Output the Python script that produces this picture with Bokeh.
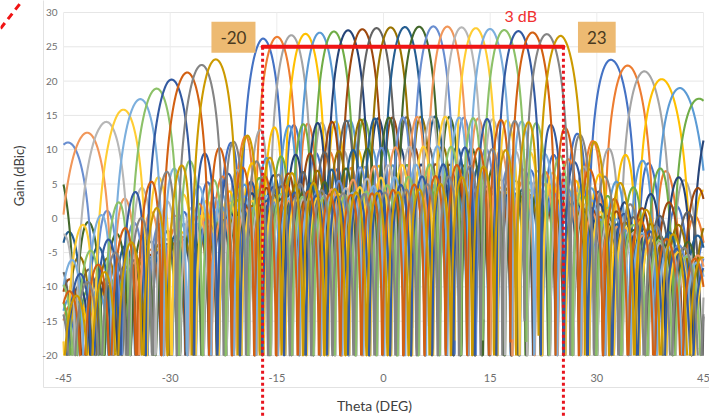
import numpy as np
from bokeh.plotting import figure
from bokeh.models import Range1d, Label, ColumnDataSource
from bokeh.core.properties import value
from bokeh.embed import file_html
from bokeh.resources import INLINE

# ---- data ----
steer_deg = [-17, -15, -13, -11, -9, -7, -5, -3, -1, 1, 3, 5, 7, 9, 11, 13, 15, 17, 19, 21, 23, 25]
# envelope of beam / grating-lobe peak gains (deg, dBic)
env_deg = [-45, -42.7, -39.9, -37.4, -34.6, -32.5, -30.4, -28.5, -26.4, -24.9, -23.3,
           -17, -12, -5, 0, 8, 15, 20, 25, 32.3, 36.6, 39, 41.8, 44.2, 45]
env_db = [10.8, 12.0, 13.5, 15.4, 17.2, 18.6, 20.0, 20.8, 22.0, 22.7, 23.3,
          26.2, 26.8, 27.4, 27.8, 28.0, 27.6, 27.2, 26.6, 23.0, 21.5, 20.4, 19.0, 17.6, 17.2]
n_elements = 16
spacing_wl = 1.212
x_ticks = [-45, -30, -15, 0, 15, 30, 45]
y_ticks = [-20, -15, -10, -5, 0, 5, 10, 15, 20, 25, 30]
x_tick_labels = [str(t) for t in x_ticks]
y_tick_labels = [str(t) for t in y_ticks]
scan_edges = [-17.0, 25.3]
scan_labels = ["-20", "23"]
label_pos_x = [-21.1, 30.0]
label_pos_y = 26.4
level_3db = 25.0
palette = ["#4472C4", "#ED7D31", "#A5A5A5", "#FFC000", "#5B9BD5", "#70AD47",
           "#264478", "#9E480E", "#636363", "#997300", "#255E91", "#43682B",
           "#698ED0", "#F1975A", "#B7B7B7", "#FFCD33", "#7CAFDD", "#8CC168",
           "#335AA1", "#D26012", "#848484", "#CC9A00"]

# ---- layout: plot area -45..45 deg x -20..30 dB at pixels 63..703 x 12..355 ----
W, H = 709, 417
XMIN, XMAX, YMIN, YMAX = -45, 45, -20, 30
FL, FR, FT, FB = 63, 703, 12, 355
sx = (FR - FL) / (XMAX - XMIN)
sy = (FB - FT) / (YMAX - YMIN)
x_lo, x_hi = XMIN - FL / sx, XMAX + (W - FR) / sx
y_lo, y_hi = YMIN - (H - FB) / sy, YMAX + FT / sy

p = figure(width=W, height=H, output_backend="svg", toolbar_location=None,
           x_range=Range1d(x_lo, x_hi), y_range=Range1d(y_lo, y_hi),
           min_border=0, x_axis_type=None, y_axis_type=None)
p.outline_line_color = None
p.grid.visible = False
p.background_fill_color = "white"

# chart-area border (faint)
bx = XMIN - 20 / sx
by = YMIN - 32 / sy
p.line([bx, bx, x_hi + 1], [y_hi + 1, by, by], line_color="#e2e2e2", line_width=1)

# grid
p.segment(x0=[XMIN] * len(y_ticks), x1=[XMAX] * len(y_ticks), y0=y_ticks, y1=y_ticks,
          line_color="#e6e6e6", line_width=1)
p.segment(x0=x_ticks, x1=x_ticks, y0=[YMIN] * len(x_ticks), y1=[YMAX] * len(x_ticks),
          line_color="#ececec", line_width=1)

theta = np.linspace(XMIN, XMAX, 1801)
env = np.interp(theta, env_deg, env_db)
for i, s in enumerate(steer_deg):
    psi = 2 * np.pi * spacing_wl * (np.sin(np.radians(theta)) - np.sin(np.radians(s)))
    den = n_elements * np.sin(psi / 2)
    num = np.sin(n_elements * psi / 2)
    small = np.abs(den) < 1e-9
    af = np.where(small, 1.0, num / np.where(small, 1.0, den))
    g = env + 20 * np.log10(np.maximum(np.abs(af), 1e-3))
    below = g < YMIN
    prev_b = np.concatenate([[True], below[:-1]])
    next_b = np.concatenate([below[1:], [True]])
    gc = np.maximum(g, YMIN)
    gc[below & prev_b & next_b] = np.nan
    p.line(theta, gc, line_color=palette[i % len(palette)], line_width=2.1)

# 3 dB scan range annotation
p.line(scan_edges, [level_3db, level_3db], line_color="#F01414", line_width=4, line_cap="round")
for e in scan_edges:
    p.line([e, e], [level_3db, y_lo], line_color="#E8141E", line_width=3, line_dash="3 3")
for lx, txt in zip(label_pos_x, scan_labels):
    p.add_layout(Label(x=lx, y=label_pos_y, text=txt, text_align="center", text_baseline="middle",
                       text_font="Lato", text_font_size="17px", text_color="#4A3A20",
                       background_fill_color="#EDBA72", padding=9))
p.add_layout(Label(x=19.3, y=29.5, text="3 dB", text_align="center", text_baseline="middle",
                   text_font="Lato", text_font_size="16px", text_color="#F03030"))
# partial red dashed stroke at the top-left corner
p.line([XMIN - 63 / sx, XMIN - 41 / sx], [YMAX - 16 / sy, YMAX + 12 / sy],
       line_color="#F01414", line_width=3, line_dash="7 5")

# tick labels
yt = ColumnDataSource(dict(x=[XMIN] * len(y_ticks), y=y_ticks, t=y_tick_labels))
p.text(x="x", y="y", text="t", source=yt, x_offset=-6, text_align="right", text_baseline="middle",
       text_font=value("Lato"), text_font_size=value("10px"), text_color="#6f6f6f")
xt = ColumnDataSource(dict(x=x_ticks, y=[YMIN] * len(x_ticks), t=x_tick_labels))
p.text(x="x", y="y", text="t", source=xt, y_offset=22, text_align="center", text_baseline="middle",
       text_font=value("Lato"), text_font_size=value("11px"), text_color="#6f6f6f")

# axis titles
p.add_layout(Label(x=(XMIN + XMAX) / 2, y=YMIN, x_offset=-9, y_offset=-50, text="Theta (DEG)",
                   text_align="center", text_baseline="middle", text_font="Lato",
                   text_font_size="14px", text_color="#404040"))
p.add_layout(Label(x=XMIN, y=(YMIN + YMAX) / 2, x_offset=-45, y_offset=8, text="Gain (dBic)",
                   angle=np.pi / 2, text_align="center", text_baseline="middle", text_font="Lato",
                   text_font_size="13px", text_color="#404040"))

open("out.html", "w").write(file_html(p, INLINE))
